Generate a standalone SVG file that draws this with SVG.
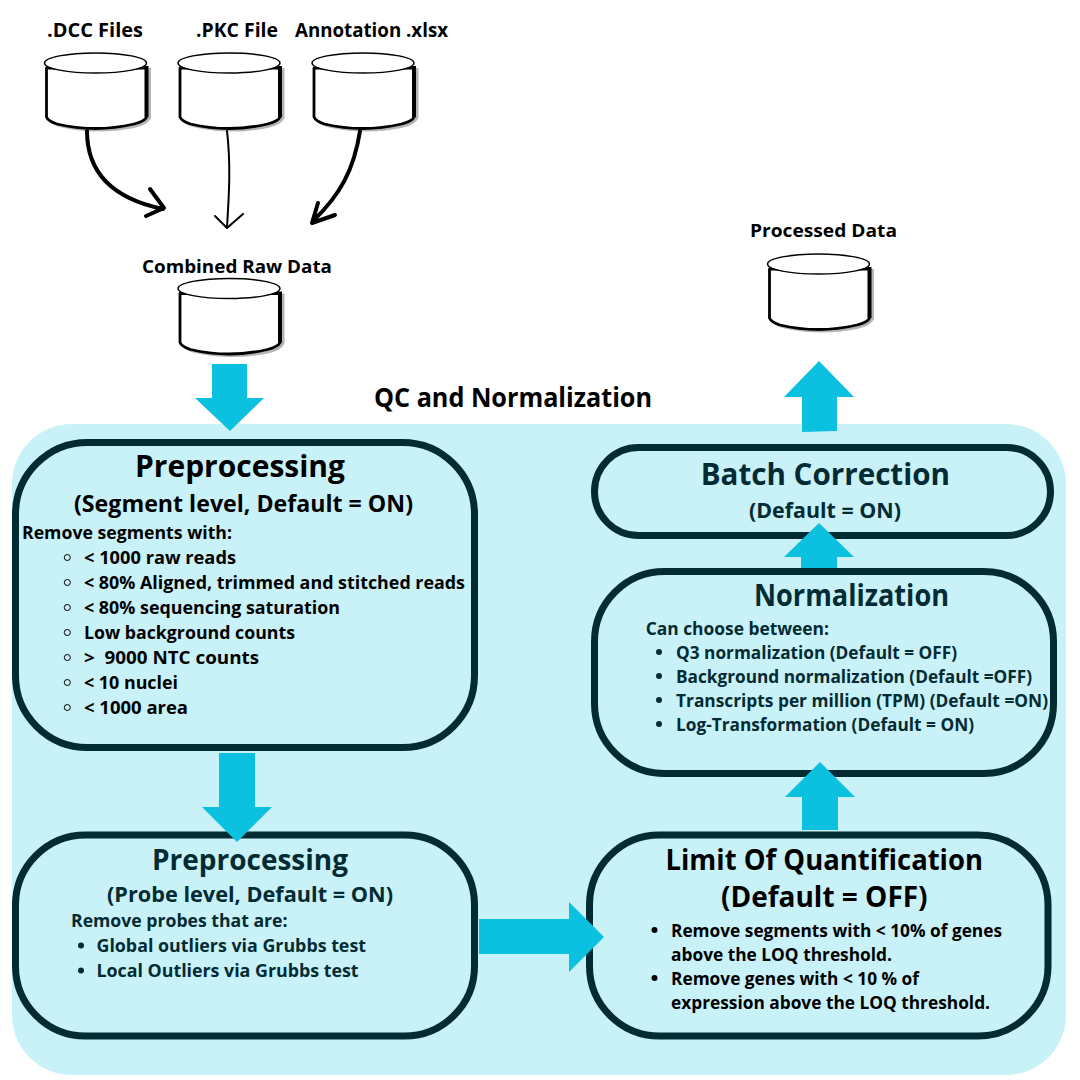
<svg xmlns="http://www.w3.org/2000/svg" width="1080" height="1080" viewBox="0 0 1080 1080">
<style>
text{font-family:"Open Sans","Noto Sans","Liberation Sans",sans-serif;font-weight:700;fill:#000}
.t{fill:#032b33}
.box{fill:none;stroke:#032b33;stroke-width:7}
.arrow{fill:#0cc0df}
.hub{fill:none;stroke:#000;stroke-linecap:round;stroke-linejoin:round}
.oc{fill:none;stroke:#000;stroke-width:1}
.dot{fill:#032b33}
.s17{font-size:18px}
</style>
<defs>
<g id="cyl">
<path d="M50 72V120Q52 126 64 128Q98 135 134 128Q148 125 151 118V68H146V72Z" fill="#b5b5b5"/>
<path d="M46.5 68V117Q48 121 57 124Q95 133 134 124Q145 121 146.5 117V68Z" fill="#fff" stroke="#000" stroke-width="2.8" stroke-linejoin="round"/>
<path d="M146.5 66V117" stroke="#000" stroke-width="4" fill="none"/>
<ellipse cx="95.5" cy="63" rx="51" ry="10" fill="#fff" stroke="#000" stroke-width="1.4"/>
</g>
</defs>
<rect x="12" y="424" width="1054" height="651" rx="60" fill="#c9f1f8"/>
<g id="n-dcc"><use href="#cyl"/><text x="47" y="37" font-size="19" textLength="96" lengthAdjust="spacingAndGlyphs">.DCC Files</text></g>
<g id="n-pkc"><use href="#cyl" x="133.5"/><text x="196" y="37" font-size="19" textLength="82" lengthAdjust="spacingAndGlyphs">.PKC File</text></g>
<g id="n-annotation"><use href="#cyl" x="267.5"/><text x="295" y="37" font-size="19" textLength="153" lengthAdjust="spacingAndGlyphs">Annotation .xlsx</text></g>
<g id="n-combined"><use href="#cyl" x="133.5" y="225.5"/><text x="142" y="273" font-size="18.5" textLength="190" lengthAdjust="spacingAndGlyphs">Combined Raw Data</text></g>
<g id="n-processed"><use href="#cyl" x="723" y="201"/><text x="750" y="236.5" font-size="18.5" textLength="147" lengthAdjust="spacingAndGlyphs">Processed Data</text></g>
<text id="panel-title" x="374" y="407" font-size="26" textLength="278" lengthAdjust="spacingAndGlyphs">QC and Normalization</text>
<g id="n-prep-segment">
<rect class="box" x="15.5" y="442.5" width="459" height="305" rx="72"/>
<text x="135" y="476.5" font-size="30" textLength="210" lengthAdjust="spacingAndGlyphs">Preprocessing</text>
<text x="74" y="512" font-size="23.5" textLength="339" lengthAdjust="spacingAndGlyphs">(Segment level, Default = ON)</text>
<text x="22" y="539" class="s17" textLength="210" lengthAdjust="spacingAndGlyphs">Remove segments with:</text>
<g class="s17">
<text x="84" y="564" textLength="152" lengthAdjust="spacingAndGlyphs">&lt; 1000 raw reads</text>
<text x="84" y="589" textLength="381" lengthAdjust="spacingAndGlyphs">&lt; 80% Aligned, trimmed and stitched reads</text>
<text x="84" y="614" textLength="256" lengthAdjust="spacingAndGlyphs">&lt; 80% sequencing saturation</text>
<text x="84" y="639" textLength="211" lengthAdjust="spacingAndGlyphs">Low background counts</text>
<text x="84" y="664" textLength="175" xml:space="preserve" lengthAdjust="spacingAndGlyphs">&gt;  9000 NTC counts</text>
<text x="84" y="689" textLength="94" lengthAdjust="spacingAndGlyphs">&lt; 10 nuclei</text>
<text x="84" y="714" textLength="104" lengthAdjust="spacingAndGlyphs">&lt; 1000 area</text>
</g>
<circle class="oc" cx="67.3" cy="557.5" r="3"/><circle class="oc" cx="67.3" cy="582.5" r="3"/><circle class="oc" cx="67.3" cy="607.5" r="3"/><circle class="oc" cx="67.3" cy="632.5" r="3"/><circle class="oc" cx="67.3" cy="657.5" r="3"/><circle class="oc" cx="67.3" cy="682.5" r="3"/><circle class="oc" cx="67.3" cy="707.5" r="3"/>
</g>
<g id="n-prep-probe">
<rect class="box" x="15.5" y="835" width="459" height="201" rx="70"/>
<text class="t" x="152" y="869.5" font-size="29" textLength="196" lengthAdjust="spacingAndGlyphs">Preprocessing</text>
<text class="t" x="107" y="902" font-size="21.5" textLength="286" lengthAdjust="spacingAndGlyphs">(Probe level, Default = ON)</text>
<text class="t s17" x="71" y="927" textLength="216.5" lengthAdjust="spacingAndGlyphs">Remove probes that are:</text>
<text class="t s17" x="96.5" y="952" textLength="269.5" lengthAdjust="spacingAndGlyphs">Global outliers via Grubbs test</text>
<text class="t s17" x="96.5" y="977" textLength="262" lengthAdjust="spacingAndGlyphs">Local Outliers via Grubbs test</text>
<circle class="dot" cx="81" cy="945.5" r="3"/><circle class="dot" cx="81" cy="970.5" r="3"/>
</g>
<g id="n-loq">
<rect class="box" x="589.5" y="835" width="458.5" height="201" rx="70"/>
<text x="665.5" y="869.5" font-size="29" textLength="317.5" lengthAdjust="spacingAndGlyphs">Limit Of Quantification</text>
<text x="721" y="907" font-size="28" textLength="206.6" lengthAdjust="spacingAndGlyphs">(Default = OFF)</text>
<text class="s17" x="671" y="936.5" textLength="331" lengthAdjust="spacingAndGlyphs">Remove segments with &lt; 10% of genes</text>
<text class="s17" x="671" y="960.5" textLength="221" lengthAdjust="spacingAndGlyphs">above the LOQ threshold.</text>
<text class="s17" x="671" y="984.5" textLength="248" lengthAdjust="spacingAndGlyphs">Remove genes with &lt; 10 % of</text>
<text class="s17" x="671" y="1008.5" textLength="319" lengthAdjust="spacingAndGlyphs">expression above the LOQ threshold.</text>
<circle cx="654.5" cy="930" r="3"/><circle cx="654.5" cy="978" r="3"/>
</g>
<g id="n-normalization">
<rect class="box" x="594.5" y="571.5" width="459" height="202" rx="70"/>
<text class="t" x="754" y="606" font-size="30" textLength="195" lengthAdjust="spacingAndGlyphs">Normalization</text>
<text class="t s17" x="645.7" y="634.5" textLength="183.3" lengthAdjust="spacingAndGlyphs">Can choose between:</text>
<text class="t s17" x="676" y="658.5" textLength="281" lengthAdjust="spacingAndGlyphs">Q3 normalization (Default = OFF)</text>
<text class="t s17" x="676" y="682.5" textLength="356" lengthAdjust="spacingAndGlyphs">Background normalization (Default =OFF)</text>
<text class="t s17" x="676" y="706.5" textLength="372" lengthAdjust="spacingAndGlyphs">Transcripts per million (TPM) (Default =ON)</text>
<text class="t s17" x="676" y="730.5" textLength="298" lengthAdjust="spacingAndGlyphs">Log-Transformation (Default = ON)</text>
<circle class="dot" cx="659" cy="652" r="3"/><circle class="dot" cx="659" cy="676" r="3"/><circle class="dot" cx="659" cy="700" r="3"/><circle class="dot" cx="659" cy="724" r="3"/>
</g>
<g id="n-batch">
<rect class="box" x="594.5" y="447.5" width="456" height="88" rx="44"/>
<text class="t" x="700.7" y="484.5" font-size="30" textLength="249.3" lengthAdjust="spacingAndGlyphs">Batch Correction</text>
<text class="t" x="749" y="517.5" font-size="21" textLength="152" lengthAdjust="spacingAndGlyphs">(Default = ON)</text>
</g>
<g id="connectors">
<path class="hub" stroke-width="4" d="M87 131C87 170 110 198 163 209M150 189L164 208L146 216"/>
<path class="hub" stroke-width="2" d="M227 131C231 165 229 195 227 227M215 216L227 228L243 214"/>
<path class="hub" stroke-width="4" d="M360 131C354 170 340 195 313 221M318 203L312 223L335 215"/>
<polygon class="arrow" points="212,364 247,364 247,398 264,398 230,431 195,398 212,398"/>
<polygon class="arrow" points="219,753 255,753 255,807 272,807 237,842 202,807 219,807"/>
<polygon class="arrow" points="479,919 569,919 569,902 604,937 569,972 569,954 479,954"/>
<polygon class="arrow" points="802,830 838,830 838,797 855,797 820,762 785,797 802,797"/>
<polygon class="arrow" points="801,568 837,568 837,557 854,557 819,523 784,557 801,557"/>
<polygon class="arrow" points="802,432 837,431 837,397 854,397 819,361 784,397 802,397"/>
</g>
</svg>
